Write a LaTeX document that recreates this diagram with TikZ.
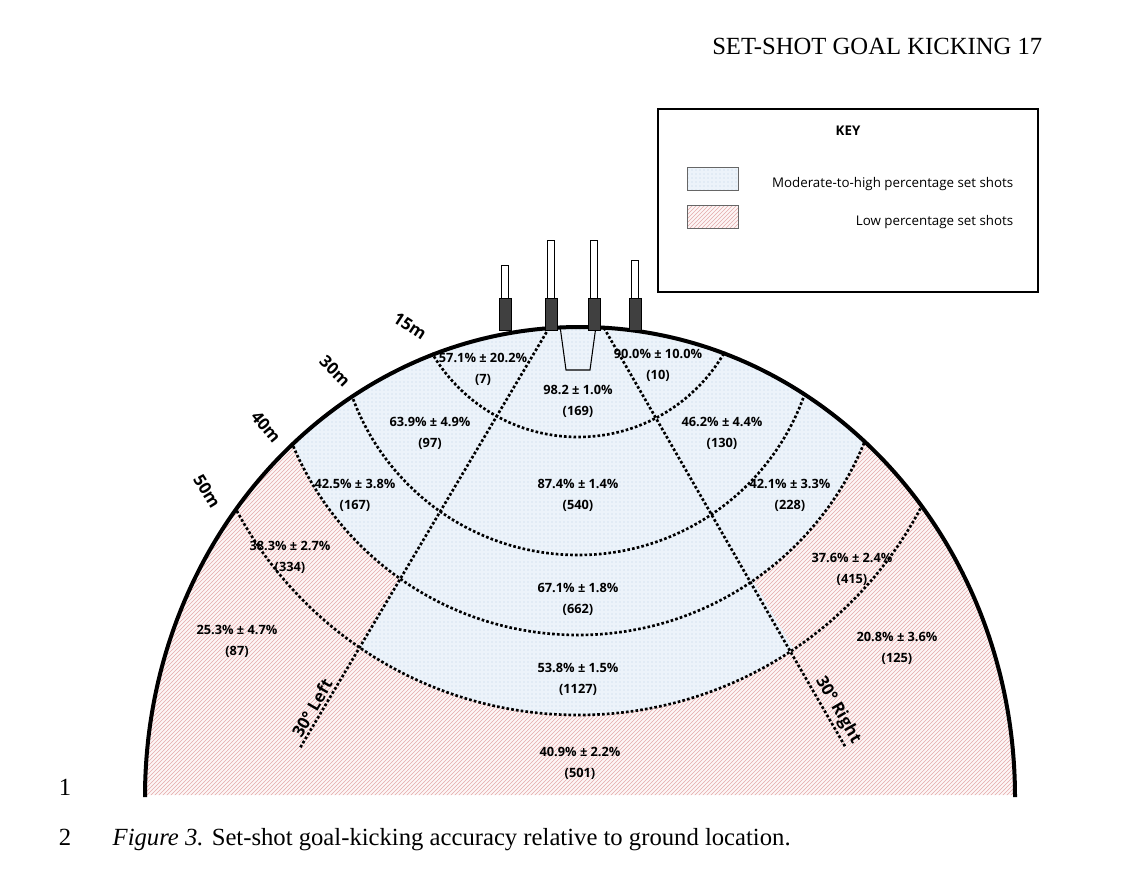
\documentclass[tikz,border=0pt]{standalone}
\usepackage{fontspec}
\setmainfont{Liberation Serif}
\newfontfamily\lab{Open Sans}
\usetikzlibrary{patterns}
\definecolor{pinkbase}{RGB}{253,246,246}
\definecolor{pinkline}{RGB}{228,170,170}
\definecolor{bluebase}{RGB}{236,243,250}
\definecolor{bluedot}{RGB}{190,210,230}
\begin{document}
\begin{tikzpicture}[x=0.75pt,y=-0.75pt,
  dots/.style={line width=2pt,dash pattern=on 2pt off 1.6pt},
  val/.style={font=\lab\bfseries\fontsize{9.6}{11}\selectfont,inner sep=0pt},
  dist/.style={font=\lab\bfseries\fontsize{12.5}{13}\selectfont,inner sep=0pt},
  post/.style={fill=black!75,draw=black,line width=0.6pt},
  pole/.style={fill=white,draw=black,line width=0.6pt}]
\useasboundingbox (0,0) rectangle (1147,878);
% header and caption
\node[anchor=base east,font=\fontsize{18.5}{20}\selectfont] (hdr) at (1047,54) {SET-SHOT GOAL KICKING 17};
\node[anchor=base west,font=\fontsize{18.5}{20}\selectfont] (cap) at (108,845) {\textit{Figure 3.} Set-shot goal-kicking accuracy relative to ground location.};
\node[anchor=base,font=\fontsize{18.5}{20}\selectfont] (n1) at (65,795) {1};
\node[anchor=base,font=\fontsize{18.5}{20}\selectfont] (n2) at (65,845) {2};
% field
\begin{scope}
\clip (145,795) arc[start angle=180,end angle=0,x radius=326.25pt,y radius=352.5pt] -- cycle;
\fill[pinkbase] (100,300) rectangle (1050,795);
\fill[pattern=north east lines,pattern color=pinkline] (100,300) rectangle (1050,795);
\fill[bluebase] (578,326) circle[radius=231.75pt];
\fill[pattern=dots,pattern color=bluedot] (578,326) circle[radius=231.75pt];
\begin{scope}
\clip (550,325) -- (150,1000) -- (1000,1000) -- (603,325) -- cycle;
\fill[bluebase] (578,328) circle[radius=290.25pt];
\fill[pattern=dots,pattern color=bluedot] (578,328) circle[radius=290.25pt];
\end{scope}
\draw[dots] (578,268) circle[radius=126.75pt];
\draw[dots] (578,315) circle[radius=180pt];
\draw[dots] (578,326) circle[radius=231.75pt];
\draw[dots] (578,328) circle[radius=290.25pt];
\end{scope}
\coordinate (la) at (549,328); \coordinate (lb) at (300,748);
\coordinate (ra) at (604,328); \coordinate (rb) at (846,748);
\draw[dots] (la) -- (lb);
\draw[dots] (ra) -- (rb);
\draw[line width=3pt] (145,797) arc[start angle=180,end angle=0,x radius=326.25pt,y radius=352.5pt];
% goal square
\draw[line width=0.8pt] (560,326) -- (566,370) -- (590,370) -- (596,326);
% posts
\foreach \x/\t in {505/265,551/240,594/240,635/260}{
  \draw[pole] (\x-3.5,\t) rectangle (\x+3.5,298);
  \draw[post] (\x-6,298) rectangle (\x+6,330);
}
% distance labels
\node[dist,rotate=-33] (d15) at (410,326) {15m};
\node[dist,rotate=-45] (d30) at (335,371) {30m};
\node[dist,rotate=-50] (d40) at (266,427) {40m};
\node[dist,rotate=-58] (d50) at (207,491) {50m};
\node[dist,rotate=60] (l30) at (312,708) {30° Left};
\node[dist,rotate=-60] (r30) at (838,710) {30° Right};
% values
\foreach \n/\x/\y/\a/\b in {
 a/483/358/57.1\% ± 20.2\%/(7),
 b/578/390/98.2 ± 1.0\%/(169),
 c/658/354/90.0\% ± 10.0\%/(10),
 d/430/422/63.9\% ± 4.9\%/(97),
 e/722/422/46.2\% ± 4.4\%/(130),
 f/355/484/42.5\% ± 3.8\%/(167),
 g/578/484/87.4\% ± 1.4\%/(540),
 h/790/484/42.1\% ± 3.3\%/(228),
 i/290/546/38.3\% ± 2.7\%/(334),
 j/578/588/67.1\% ± 1.8\%/(662),
 k/852/558/37.6\% ± 2.4\%/(415),
 l/237/630/25.3\% ± 4.7\%/(87),
 m/578/668/53.8\% ± 1.5\%/(1127),
 n/897/637/20.8\% ± 3.6\%/(125),
 o/580/752/40.9\% ± 2.2\%/(501)}{
  \node[val] (v\n) at (\x,\y) {\a};
  \node[val] (w\n) at (\x,\y+22) {\b};
}
% key
\draw[line width=1.2pt] (658,109) rectangle (1038,292);
\node[font=\lab\bfseries\fontsize{10}{11}\selectfont] (key) at (848,131) {KEY};
\fill[bluebase] (687,167) rectangle (738,190);
\fill[pattern=dots,pattern color=bluedot] (687,167) rectangle (738,190);
\draw[black!60] (687,167) rectangle (738,190);
\fill[pinkbase] (687,205) rectangle (738,228);
\fill[pattern=north east lines,pattern color=pinkline] (687,205) rectangle (738,228);
\draw[black!60] (687,205) rectangle (738,228);
\node[anchor=east,font=\lab\fontsize{10}{11}\selectfont] (k1) at (1018,184) {Moderate-to-high percentage set shots};
\node[anchor=east,font=\lab\fontsize{10}{11}\selectfont] (k2) at (1018,222) {Low percentage set shots};
\end{tikzpicture}
\end{document}
